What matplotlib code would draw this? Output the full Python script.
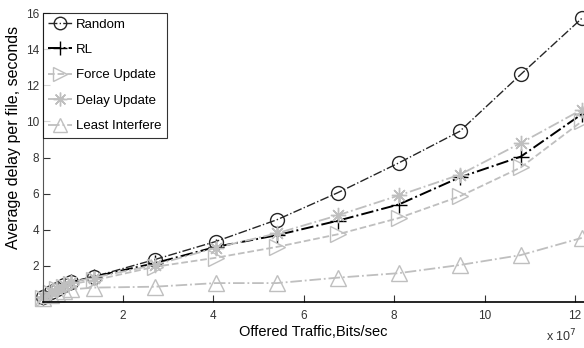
import matplotlib
matplotlib.use("Agg")
import matplotlib.pyplot as plt

# offered traffic (x 1e7 bits/sec)
traffic = [0.23, 0.4, 0.55, 0.7, 0.85, 1.35, 2.7, 4.05, 5.4, 6.75, 8.1, 9.45, 10.8, 12.15]

random_delay = [0.3, 0.55, 0.75, 0.95, 1.1, 1.4, 2.35, 3.35, 4.55, 6.05, 7.7, 9.45, 12.6, 15.7]
rl_delay = [0.3, 0.55, 0.75, 0.95, 1.1, 1.4, 2.15, 3.05, 3.7, 4.5, 5.4, 6.9, 8.05, 10.4]
force_delay = [0.25, 0.5, 0.7, 0.85, 1.0, 1.2, 1.95, 2.45, 3.05, 3.75, 4.65, 5.85, 7.45, 10.0]
delay_update = [0.3, 0.55, 0.75, 0.95, 1.1, 1.35, 2.05, 3.0, 3.8, 4.8, 5.9, 7.05, 8.8, 10.65]
least_delay = [0.25, 0.4, 0.5, 0.6, 0.7, 0.8, 0.85, 1.05, 1.05, 1.35, 1.6, 2.05, 2.6, 3.55]

x_ticks = [2, 4, 6, 8, 10, 12]
y_ticks = [2, 4, 6, 8, 10, 12, 14, 16]

plt.rcParams["font.family"] = ["Liberation Sans", "DejaVu Sans"]

fig = plt.figure(figsize=(5.84, 3.48), dpi=100)
ax = fig.add_axes([0.0736, 0.132, 0.9264, 0.8306])

gray = (0.75, 0.75, 0.75)
series = [
    ("Random", random_delay, dict(color=(0.15, 0.15, 0.15), linestyle="-.", marker="o",
                                  markersize=10, linewidth=1.0)),
    ("RL", rl_delay, dict(color="black", linestyle="-.", marker="+",
                          markersize=11, linewidth=1.4)),
    ("Force Update", force_delay, dict(color=gray, linestyle="--", marker=">",
                                       markersize=11, linewidth=1.3)),
    ("Delay Update", delay_update, dict(color=gray, linestyle="-.", marker=(8, 2, 0),
                                        markersize=11, linewidth=1.3)),
    ("Least Interfere", least_delay, dict(color=gray, linestyle="-.", marker="^",
                                          markersize=11, linewidth=1.3)),
]

for label, values, style in series:
    ax.plot(traffic, values, label=label, markerfacecolor="none",
            markeredgecolor=style["color"], markeredgewidth=1.0,
            clip_on=False, **style)

ax.set_xlim(0.23, 12.2)
ax.set_ylim(0, 16)
ax.set_xticks(x_ticks)
ax.set_yticks(y_ticks)
ax.set_xticklabels([str(t) for t in x_ticks])
ax.set_yticklabels([str(t) for t in y_ticks])
ax.tick_params(direction="in", length=5, labelsize=8.5, colors="#333333")
ax.tick_params(axis="y", pad=3)
ax.tick_params(axis="x", pad=6)

ax.spines["top"].set_visible(False)
ax.spines["right"].set_visible(False)
ax.spines["left"].set_color("#555555")
ax.spines["bottom"].set_linewidth(1.2)

ax.set_xlabel("Offered Traffic,Bits/sec", fontsize=10.5, labelpad=2)
ax.set_ylabel("Average delay per file, seconds", fontsize=11.5)
ax.yaxis.set_label_coords(-0.04, 0.57)
fig.text(0.962, 0.02, r"x 10$^7$", fontsize=9, ha="center", color="#333333")

leg = ax.legend(loc="upper left", fontsize=9.5, frameon=True, fancybox=False,
                borderaxespad=0.0, handlelength=1.8, handletextpad=0.3,
                labelspacing=1.0, borderpad=0.4, markerscale=0.9)
leg.get_frame().set_edgecolor("black")
leg.get_frame().set_linewidth(0.8)

fig.savefig("out.png", dpi=100)
